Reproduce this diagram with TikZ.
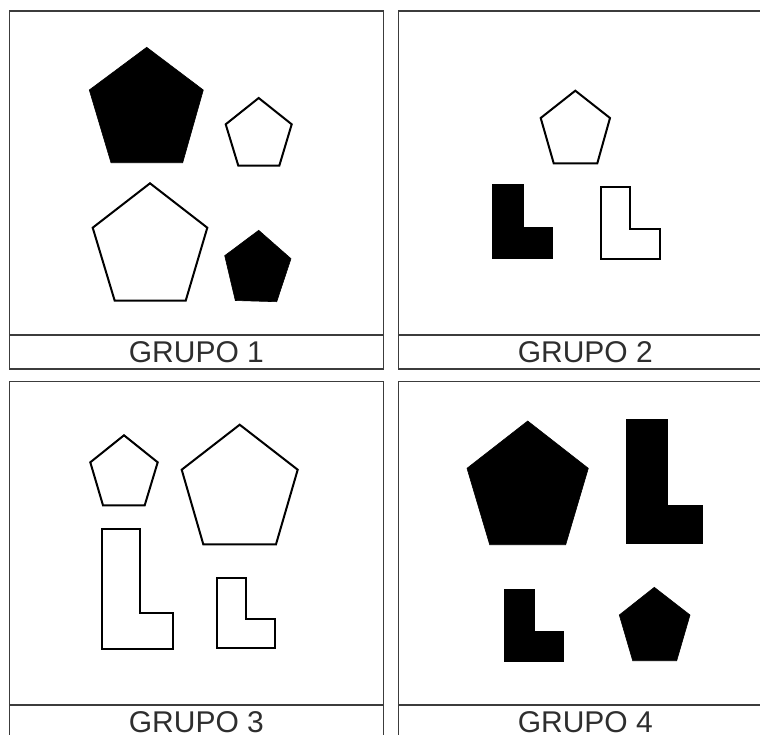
\documentclass[tikz,border=0pt]{standalone}
\usepackage{fontspec}
\setmainfont{Liberation Sans}
\definecolor{framegray}{HTML}{3C3C3C}
\definecolor{textgray}{HTML}{2E2E2E}
\begin{document}
\begin{tikzpicture}[x=1pt,y=-1pt,
  frame/.style={draw=framegray,line width=1.3pt},
  outl/.style={draw=black,line width=2pt,line join=miter,fill=white},
  solid/.style={fill=black,draw=black,line width=0.6pt},
  lab/.style={anchor=base,text=textgray,font=\fontsize{30}{36}\selectfont,inner sep=0pt}]
\useasboundingbox (0,0) rectangle (760,734);
\clip (0,0) rectangle (760,734);
% panel frames
\draw[frame] (9.5,11) rectangle (383.3,369);
\draw[frame] (9.5,335) -- (383.3,335);
\draw[frame] (398.5,11) rectangle (772,369);
\draw[frame] (398.5,335) -- (772,335);
\draw[frame] (9.5,381.7) rectangle (383.3,745);
\draw[frame] (9.5,705) -- (383.3,705);
\draw[frame] (398.5,381.7) rectangle (772,745);
\draw[frame] (398.5,705) -- (772,705);
% labels
\node[lab] (g1) at (196.4,362.5) {GRUPO 1};
\node[lab] (g2) at (585.3,362.5) {GRUPO 2};
\node[lab] (g3) at (196.4,732.5) {GRUPO 3};
\node[lab] (g4) at (585.3,732.5) {GRUPO 4};
% GRUPO 1
\filldraw[solid] (146.7,47.3) -- (203.3,90) -- (182.7,162.7) -- (111,162.7) -- (89.3,90) -- cycle;
\draw[outl] (258.7,98) -- (291.7,124.3) -- (279.3,165.7) -- (238.3,165.7) -- (225.7,124.3) -- cycle;
\draw[outl] (150,183.3) -- (207.3,227.7) -- (185.7,300.7) -- (114.7,300.7) -- (92.7,227.7) -- cycle;
\filldraw[solid] (258.7,230.3) -- (291,258.7) -- (276.7,301.7) -- (235.3,300.5) -- (224.7,255.7) -- cycle;
% GRUPO 2
\draw[outl] (575.3,90.7) -- (610,118) -- (597.3,163.3) -- (553.7,163.3) -- (540.7,118) -- cycle;
\filldraw[solid] (492.3,184.3) -- (523.3,184.3) -- (523.3,227.7) -- (552.3,227.7) -- (552.3,258.3) -- (492.3,258.3) -- cycle;
\draw[outl] (601,186.7) -- (630.3,186.7) -- (630.3,229.3) -- (660.3,229.3) -- (660.3,258.7) -- (601,258.7) -- cycle;
% GRUPO 3
\draw[outl] (124,435.3) -- (157.7,462.3) -- (144.7,505.3) -- (103,505.3) -- (90.3,462.3) -- cycle;
\draw[outl] (239.7,424.7) -- (297.7,469.7) -- (276,544.3) -- (203.3,544.3) -- (181.7,469.7) -- cycle;
\draw[outl] (101.7,529.3) -- (139.7,529.3) -- (139.7,613) -- (173.3,613) -- (173.3,649) -- (101.7,649) -- cycle;
\draw[outl] (217.3,578) -- (246,578) -- (246,618.7) -- (274.7,618.7) -- (274.7,647.7) -- (217.3,647.7) -- cycle;
% GRUPO 4
\filldraw[solid] (527.7,421) -- (588.3,468.3) -- (565.7,544.7) -- (489.7,544.7) -- (467,468.3) -- cycle;
\filldraw[solid] (626.7,419) -- (667,419) -- (667,505.7) -- (702,505.7) -- (702,543.3) -- (626.7,543.3) -- cycle;
\filldraw[solid] (504,589.3) -- (534.3,589.3) -- (534.3,631.7) -- (563.7,631.7) -- (563.7,661.7) -- (504,661.7) -- cycle;
\filldraw[solid] (654.3,587.3) -- (690,615) -- (676.7,660.7) -- (632.7,660.7) -- (619.3,615) -- cycle;
\end{tikzpicture}
\end{document}
